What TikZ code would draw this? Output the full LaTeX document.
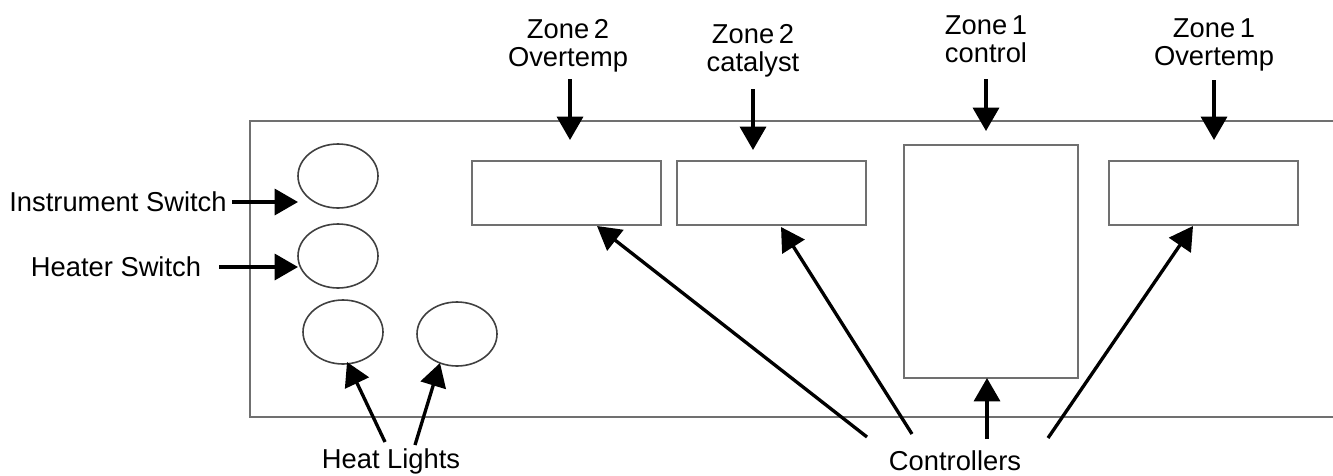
\documentclass[tikz,border=0pt]{standalone}
\usepackage{fontspec}
\setmainfont{Liberation Sans}
\usetikzlibrary{arrows.meta,shapes.geometric}
\definecolor{boxgray}{RGB}{112,112,112}
\begin{document}
\begin{tikzpicture}[x=0.75pt,y=-0.75pt,
  box/.style={draw=boxgray,line width=1.8pt},
  rbox/.style={box,rectangle,inner sep=0pt,anchor=north west},
  lamp/.style={draw=black!75,line width=1.2pt,ellipse,minimum width=60pt,minimum height=48pt,inner sep=0pt},
  lbl/.style={font=\fontsize{20.5}{21}\selectfont,inner sep=0pt,align=center},
  arr/.style={line width=2.5pt,-{Triangle[length=17.5pt,width=19.5pt]}}]
\useasboundingbox (0,0) rectangle (1333,475);
% panel
\draw[box] (1333,121) -- (250,121) -- (250,417) -- (1333,417);
% switches and lights
\node[lamp] (isw) at (338,176) {};
\node[lamp] (hsw) at (338,256) {};
\node[lamp] (hl1) at (343,332) {};
\node[lamp] (hl2) at (457,334) {};
% controllers
\node[rbox,minimum width=141.75pt,minimum height=48pt] (z2o) at (471,160) {};
\node[rbox,minimum width=141.75pt,minimum height=48pt] (z2c) at (676,160) {};
\node[rbox,minimum width=130.5pt,minimum height=174.75pt] (z1c) at (903,144) {};
\node[rbox,minimum width=141.75pt,minimum height=48pt] (z1o) at (1108,160) {};
% labels
\node[lbl] (tisw) at (118,202) {Instrument Switch};
\node[lbl] (thsw) at (116,267) {Heater Switch};
\node[lbl] (thl) at (391,461) {Heat Lights};
\node[lbl] (tctl) at (955,461) {Controllers};
\node[lbl] (tz2o) at (568,46) {Zone\,2\\Overtemp};
\node[lbl] (tz2c) at (753,51) {Zone\,2\\catalyst};
\node[lbl] (tz1c) at (986,39) {Zone\,1\\control};
\node[lbl] (tz1o) at (1214,45) {Zone\,1\\Overtemp};
% arrow tips (pointing at the parts)
\coordinate (aisw) at (298,202);
\coordinate (ahsw) at (298,267);
\coordinate (ahl1) at (347,362);
\coordinate (ahl2) at (440,363);
\coordinate (az2o) at (570,140);
\coordinate (az2c) at (753,150);
\coordinate (az1c) at (986,131);
\coordinate (az1o) at (1214,140);
\coordinate (bz2o) at (597,226);
\coordinate (bz2c) at (781,227);
\coordinate (bz1c) at (987,378);
\coordinate (bz1o) at (1193,226);
% arrows, starting next to their labels
\draw[arr] (tisw.center)+(114,0) -- (aisw);
\draw[arr] (thsw.center)+(103,0) -- (ahsw);
\draw[arr] (thl.center)+(-6,-19) -- (ahl1);
\draw[arr] (thl.center)+(24,-16) -- (ahl2);
\draw[arr] (tz2o.center)+(2,33) -- (az2o);
\draw[arr] (tz2c.center)+(0,38) -- (az2c);
\draw[arr] (tz1c.center)+(0,40) -- (az1c);
\draw[arr] (tz1o.center)+(0,35) -- (az1o);
\draw[arr] (tctl.center)+(-88,-24) -- (bz2o);
\draw[arr] (tctl.center)+(-43,-27) -- (bz2c);
\draw[arr] (tctl.center)+(32,-22) -- (bz1c);
\draw[arr] (tctl.center)+(93,-23) -- (bz1o);
\end{tikzpicture}
\end{document}
